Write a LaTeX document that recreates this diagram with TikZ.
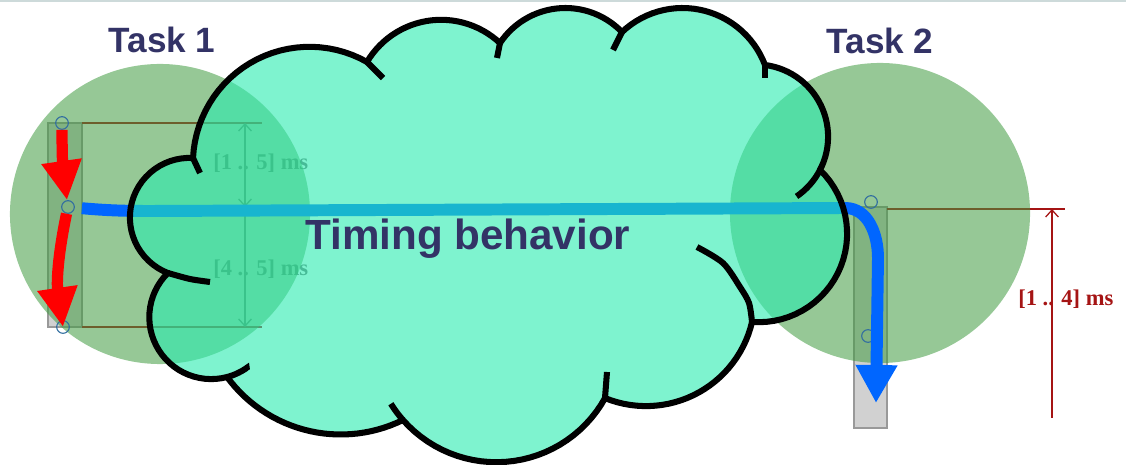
\documentclass[tikz,border=0pt]{standalone}
\usepackage{fontspec}
\setmainfont{Liberation Serif}
\setsansfont{Liberation Sans}
\usepackage{xcolor}
\usepackage{tikz}
\usetikzlibrary{arrows.meta}
\tikzset{>=latex}
\tikzset{dimtip/.tip={Straight Barb[length=5pt, width=9pt]}}
\definecolor{labelblue}{RGB}{51,51,102}
\definecolor{cloudgreen}{RGB}{40,235,175}
\definecolor{taskgreen}{RGB}{64,155,64}
\definecolor{dimred}{RGB}{165,20,20}
\definecolor{flowblue}{RGB}{0,102,255}
\definecolor{portblue}{RGB}{50,110,160}
\definecolor{rulegray}{RGB}{205,218,218}
\tikzstyle{taskfill} = [fill=taskgreen, fill opacity=0.55]
\tikzstyle{taskbar} = [fill=black!18, draw=black!40, line width=1pt]
\tikzstyle{dimline} = [draw=dimred, line width=0.9pt]
\tikzstyle{port} = [circle, draw=portblue, line width=0.8pt, minimum size=9pt, inner sep=0]
\tikzstyle{redflow} = [line width=8pt, red, -{Triangle[width=27pt, length=28pt]}]
\tikzstyle{blueflow} = [line width=8.5pt, flowblue, -{Triangle[width=28pt, length=27pt]}]
\tikzstyle{cloudfill} = [fill=cloudgreen, fill opacity=0.6, draw=black, line width=4.3pt, line join=round]
\tikzstyle{cloudline} = [draw=black, line width=4.3pt]
\tikzstyle{tasklabel} = [inner sep=0, text=labelblue, font=\sffamily\bfseries\fontsize{25}{30}\selectfont]
\tikzstyle{rangelabel} = [inner sep=0, font=\rmfamily\bfseries\fontsize{16}{19}\selectfont]
% one bump of the cloud: centre x, centre y, radius, from angle, to angle
\newcommand{\lobe}[5]{-- plot [domain=#4:#5, samples=30, variable=\t] ({#1+#3*cos(\t)}, {#2+#3*sin(\t)})}

\begin{document}
\begin{tikzpicture}[x=0.025cm, y=-0.025cm]
\useasboundingbox (0,0) rectangle (1126,465);
\draw [rulegray, line width=1.5pt] (0,1) -- (1126,1);

% task 1 timeline
\draw [taskbar] (48,123) rectangle (82,327);
\draw [dimline] (82,123) -- (262,123);
\draw [dimline] (82,327) -- (262,327);
\draw [dimline, black!55, dimtip-dimtip] (245,123) -- (245,207);
\draw [dimline, black!55, dimtip-dimtip] (245,207) -- (245,327);
\node [rangelabel, text=black!55, anchor=base west] (D1) at (213,170) {[1 .. 5] ms};
\node [rangelabel, text=black!55, anchor=base west] (D2) at (213,276) {[4 .. 5] ms};

% task 2 timeline
\draw [taskbar] (854,207) rectangle (887,428);
\draw [dimline] (887,209) -- (1065,209);
\draw [dimline, dimtip-] (1052,209) -- (1052,418);
\node [rangelabel, text=dimred, anchor=base west] (D3) at (1018,306) {[1 .. 4] ms};

\fill [taskfill] (160,214) circle (3.75cm);
\fill [taskfill] (880,213) circle (3.75cm);

\node [port] (S0) at (62,123) {};
\node [port] (S1) at (68,207) {};
\node [port] (S2) at (63,327) {};
\node [port] (R0) at (871,202) {};
\node [port] (R1) at (868,336) {};

\draw [redflow] (S0) to [bend right=4] (S1);
\draw [redflow] (S1) to [bend right=10] (S2.center);

\coordinate (E1) at (150,211);
\coordinate (E2) at (845,208);
\coordinate (E3) at (878,258);
\coordinate (E4) at (876,403);
\draw [blueflow, shorten <=5pt] (S1) to [out=-5, in=180] (E1) -- (E2) to [out=0, in=90] (E3) -- (E4);

% cloud
\filldraw [cloudfill] (193,158) \lobe{309.5}{163.4}{116.6}{182.7}{299.6}
  \lobe{441.1}{106.0}{86.2}{210.7}{313.1}
  \lobe{565.4}{86.6}{78.6}{213.7}{316.0}
  \lobe{682.5}{96.2}{88.2}{226.7}{339.3}
  \lobe{755.8}{136.7}{72.3}{277.3}{387.4}
  \lobe{758.6}{233.7}{88.5}{-46.0}{94.3}
  \lobe{646.0}{297.2}{108.9}{13.2}{112.1}
  \lobe{496.3}{337.9}{124.3}{28.9}{138.7}
  \lobe{340.7}{293.5}{141.0}{63.8}{143.7}
  \lobe{211.2}{317.2}{61.9}{75.2}{225.7}
  \lobe{189.5}{217.5}{59.6}{111.2}{273.4}
  -- cycle;
\draw [cloudline] (193,158) -- (200,173);
\draw [cloudline] (367,62) -- (383,78);
\draw [cloudline] (500,43) -- (497,58);
\draw [cloudline] (622,32) -- (613,50);
\draw [cloudline] (765,65) -- (765,78);
\draw [cloudline] (820,170) \lobe{755.8}{136.7}{72.3}{27.4}{55.7};
\draw [cloudline] plot [smooth] coordinates {(752,322) (749,303) (740,287) (723,263) (697,247)};
\draw [cloudline] (605,398) -- (607,372);
\draw [cloudline] (403,420) \lobe{496.3}{337.9}{124.3}{138.7}{148};
\draw [cloudline] (247,370) \lobe{211.2}{317.2}{61.9}{55}{75.2};
\draw [cloudline] plot [smooth] coordinates {(168,273) (190,279) (210,282)};

\node [tasklabel, anchor=base] (T1) at (162,53) {Task 1};
\node [tasklabel, anchor=base] (T2) at (880,54) {Task 2};
\node [tasklabel, anchor=base west, font=\sffamily\bfseries\fontsize{30}{36}\selectfont] (B) at (305,250) {Timing behavior};
\end{tikzpicture}
\end{document}
